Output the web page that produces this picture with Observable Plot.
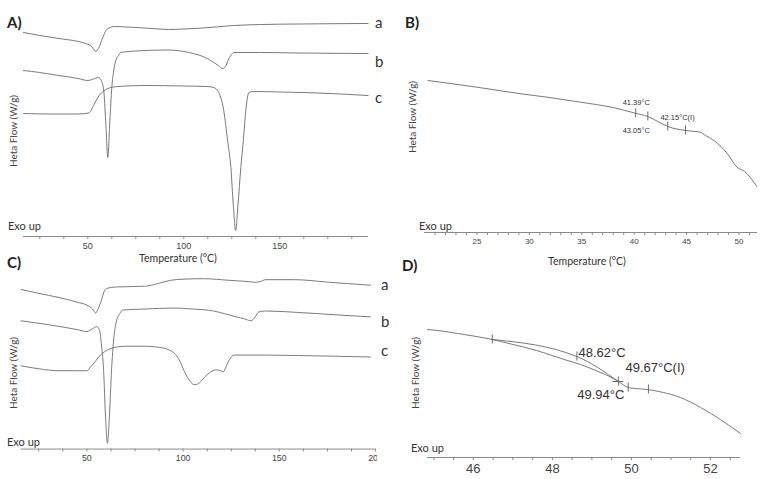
<!DOCTYPE html>
<html><head><meta charset="utf-8">
<script src="https://cdn.jsdelivr.net/npm/d3@7"></script>
<script src="https://cdn.jsdelivr.net/npm/@observablehq/plot@0.6"></script>
<style>
body{margin:0;background:#fff;}
#wrap{position:relative;width:763px;height:479px;overflow:hidden;background:#fff;font-family:Lato,"Open Sans",sans-serif;color:#333;}
.pn{position:absolute;}
.t{position:absolute;white-space:nowrap;line-height:1;}
</style></head><body><div id="wrap"></div>
<script>
// ---------- Panel A: DSC thermograms (Temperature °C, heat flow W/g, offset) ----------
const A_a = [[16.5,-0.32],[25,-0.35],[35,-0.38],[45,-0.41],[48,-0.425],[52,-0.46],[54.2,-0.51],[56,-0.46],[58,-0.36],[59.5,-0.30],[61,-0.275],[64,-0.26],[70,-0.265],[80,-0.275],[92,-0.29],[100,-0.285],[110,-0.275],[126,-0.25],[140,-0.24],[160,-0.235],[196,-0.23]];
const A_b = [[16.5,-0.70],[25,-0.72],[35,-0.75],[45,-0.78],[50,-0.80],[53,-0.785],[55.5,-0.77],[57,-0.80],[58.3,-0.90],[59.3,-1.20],[60.4,-1.57],[61.5,-1.20],[62.5,-0.87],[63.5,-0.70],[64.6,-0.60],[66,-0.55],[67.2,-0.52],[75,-0.505],[91.7,-0.495],[100,-0.51],[105,-0.53],[110,-0.56],[114,-0.60],[118,-0.65],[120.3,-0.68],[122,-0.65],[123,-0.60],[124.5,-0.55],[126,-0.52],[140,-0.52],[160,-0.525],[196,-0.53]];
const A_c = [[16.5,-1.13],[30,-1.135],[45,-1.135],[50.5,-1.125],[53,-1.05],[55.2,-0.97],[58,-0.91],[60.4,-0.88],[65.6,-0.86],[80,-0.85],[100,-0.855],[112,-0.86],[115.6,-0.87],[118.2,-0.92],[120.8,-1.10],[122.8,-1.40],[124.5,-1.67],[125.8,-2.05],[127,-2.30],[128.2,-2.05],[129.7,-1.67],[131,-1.40],[132.3,-1.10],[133.9,-0.92],[136.5,-0.91],[150,-0.915],[170,-0.925],[196,-0.95]];
const A_ticks = [25,37.5,50,62.5,75,87.5,100,112.5,125,137.5,150,162.5,175,187.5];
const A_labels = [50,100,150];

// ---------- Panel B ----------
const B_curve = [[20.33,-0.80],[25.4,-0.873],[29.2,-0.933],[31.7,-0.967],[34.9,-1.017],[38.1,-1.073],[40.1,-1.127],[41.3,-1.16],[42.2,-1.207],[43.2,-1.26],[44.9,-1.30],[46.3,-1.317],[46.8,-1.35],[47.6,-1.40],[48.9,-1.533],[49.8,-1.667],[50.5,-1.707],[51.7,-1.86]];
const B_marks = [[40.14,-1.127],[41.3,-1.16],[43.2,-1.26],[44.9,-1.30]];
const B_notes = [["41.39°C",38.9,-1.02],["42.15°C(I)",42.5,-1.17],["43.05°C",38.9,-1.30]];
const B_ticks = [21,22,23,24,25,26,27,28,29,30,31,32,33,34,35,36,37,38,39,40,41,42,43,44,45,46,47,48,49,50,51];
const B_labels = [25,30,35,40,45,50];

// ---------- Panel C ----------
const C_a = [[15.8,-0.50],[25,-0.54],[35,-0.58],[45,-0.63],[50,-0.66],[53,-0.70],[54.6,-0.74],[56,-0.69],[57.7,-0.60],[59,-0.52],[60.2,-0.49],[65,-0.475],[80,-0.467],[87,-0.44],[93.4,-0.407],[100,-0.395],[110.7,-0.39],[124,-0.407],[134,-0.42],[137.8,-0.427],[140,-0.42],[142.9,-0.40],[158,-0.40],[175,-0.425],[197.4,-0.457]];
const C_b = [[15.8,-0.82],[30,-0.86],[45,-0.91],[50,-0.93],[53,-0.90],[55.1,-0.88],[56.5,-0.91],[57.5,-1.05],[58.7,-1.33],[59.7,-1.80],[60.7,-2.07],[61.7,-1.80],[62.8,-1.33],[64,-1.00],[65.3,-0.83],[67,-0.75],[68.9,-0.71],[80,-0.70],[95.4,-0.69],[105,-0.70],[115.8,-0.72],[122,-0.75],[127.6,-0.78],[132,-0.80],[135.2,-0.82],[137.5,-0.78],[139.3,-0.73],[142.9,-0.72],[160,-0.735],[180,-0.76],[197.4,-0.78]];
const C_c = [[15.8,-1.28],[25,-1.31],[35,-1.33],[45,-1.33],[50,-1.33],[52,-1.29],[54.6,-1.23],[57,-1.17],[59.7,-1.13],[63,-1.10],[69.9,-1.08],[80,-1.08],[90.3,-1.10],[93,-1.12],[95.4,-1.15],[98,-1.22],[100.5,-1.33],[103,-1.42],[105.6,-1.47],[107,-1.47],[108.7,-1.45],[111,-1.40],[113.8,-1.35],[117.3,-1.32],[119.5,-1.33],[120.9,-1.34],[122.5,-1.28],[124,-1.22],[126.5,-1.17],[140,-1.17],[160,-1.175],[197.4,-1.19]];
const C_ticks = [25,37.5,50,62.5,75,87.5,100,112.5,125,137.5,150,162.5,175,187.5,200];
const C_labels = [50,100,150,200];

// ---------- Panel D ----------
const D_curve = [[44.84,-0.89],[45.2,-0.905],[45.6,-0.93],[46.0,-0.955],[46.48,-0.99],[46.9,-1.03],[47.27,-1.065],[47.6,-1.10],[47.95,-1.145],[48.3,-1.19],[48.71,-1.24],[49.1,-1.30],[49.54,-1.38],[49.67,-1.41],[49.92,-1.47],[50.1,-1.48],[50.4,-1.49],[50.81,-1.52],[51.24,-1.57],[51.75,-1.67],[52.25,-1.79],[52.76,-1.93]];
const D_tangent = [[46.48,-0.99],[48.62,-1.16],[49.67,-1.41]];
const D_marks = [[46.48,-0.99],[48.62,-1.16],[49.67,-1.41],[49.92,-1.47],[50.43,-1.49]];
const D_cross = [[49.67,-1.41]];
const D_notes = [["48.62°C",48.66,-1.12],["49.67°C(I)",49.85,-1.27],["49.94°C",48.63,-1.54]];
const D_ticks = [45,45.5,46,46.5,47,47.5,48,48.5,49,49.5,50,50.5,51,51.5,52,52.5];
const D_labels = [46,48,50,52];

const series = ["a","b","c"];

const wrap = document.getElementById("wrap");
const LINE = "#6a6a6a";
const AX = "#8a8a8a";

function panel(o){
  const marks = [
    Plot.ruleY([o.yd[0]], {stroke: AX, strokeWidth: 1}),
    Plot.axisX({ticks: o.ticks, tickSize: 3, tickPadding: 3, stroke: AX, label: null,
      tickFormat: d => o.labels.includes(d) ? String(d) : ""}),
    ...o.lines.map(L => Plot.line(L, {x: d => d[0], y: d => d[1], stroke: LINE, strokeWidth: 0.9, curve: "monotone-x"}))
  ];
  if (o.extra) marks.push(...o.extra);
  const svg = Plot.plot({
    width: o.w, height: o.h,
    marginLeft: o.ml, marginRight: o.mr, marginTop: 0, marginBottom: o.mb,
    x: {domain: o.xd},
    y: {domain: o.yd, axis: null},
    style: {background: "transparent", fontFamily: "'Liberation Sans', Arial, sans-serif", fontSize: o.fs + "px", color: "#444"},
    marks
  });
  const div = document.createElement("div");
  div.className = "pn";
  div.style.left = o.left + "px"; div.style.top = o.top + "px";
  div.style.width = (o.clipW || o.w) + "px"; div.style.height = o.h + "px";
  div.style.overflow = "hidden";
  div.appendChild(svg);
  wrap.appendChild(div);
}

function ticksAt(arr){
  return Plot.ruleX(arr, {x: d => d[0], y1: d => d[1] - 0.045, y2: d => d[1] + 0.045, stroke: LINE, strokeWidth: 1});
}
function notes(arr, fs){
  return Plot.text(arr, {x: d => d[1], y: d => d[2], text: d => d[0], textAnchor: "start", fontSize: fs, fill: "#333",
    fontFamily: "'Liberation Sans', Arial, sans-serif"});
}

panel({left:0, top:0, w:380, h:265, ml:23, mr:12, mb:29, xd:[16.5,196.2], yd:[-2.36,0], fs:9,
  ticks:A_ticks, labels:A_labels, lines:[A_a,A_b,A_c]});
panel({left:380, top:0, w:383, h:265, ml:44, mr:6, mb:33, xd:[20,51.76], yd:[-2.32,0], fs:8,
  ticks:B_ticks, labels:B_labels, lines:[B_curve],
  extra:[ticksAt(B_marks), notes(B_notes, 7.5)]});
panel({left:0, top:240, w:385, clipW:377, h:239, ml:21, mr:2, mb:26, xd:[15.8,200], yd:[-2.13,0], fs:9,
  ticks:C_ticks, labels:C_labels, lines:[C_a,C_b,C_c]});
panel({left:380, top:240, w:383, h:239, ml:47, mr:23, mb:22, xd:[44.84,52.76], yd:[-2.17,0], fs:13,
  ticks:D_ticks, labels:D_labels, lines:[D_curve, D_tangent],
  extra:[ticksAt(D_marks),
    Plot.ruleY(D_cross, {y: d => d[1], x1: d => d[0] - 0.14, x2: d => d[0] + 0.14, stroke: LINE}),
    notes(D_notes, 13)]});

// ---------- HTML text ----------
function txt(s, x, y, css, center){
  const e = document.createElement("div");
  e.className = "t";
  e.textContent = s;
  e.style.left = x + "px"; e.style.top = y + "px";
  e.style.transform = center ? "translate(-50%,-50%)" : "translate(0,-50%)";
  Object.assign(e.style, css || {});
  wrap.appendChild(e);
  return e;
}
function ytitle(x, y){
  const e = txt("Heta Flow (W/g)", x, y, {fontSize: "10px", color: "#444"}, true);
  e.style.transform = "translate(-50%,-50%) rotate(-90deg)";
}
const bold = {fontSize: "15px", fontWeight: "700", color: "#222"};
txt("A)", 7, 22, bold); txt("B)", 405, 22, bold);
txt("C)", 7, 262, bold); txt("D)", 402, 265, bold);
ytitle(13, 131); ytitle(412, 117); ytitle(13, 373); ytitle(415, 373);
const exo = {fontSize: "11px", color: "#333"};
txt("Exo up", 8, 225, exo); txt("Exo up", 419, 225, exo);
txt("Exo up", 7, 441, exo); txt("Exo up", 411, 447, exo);
const tt = {fontSize: "10.5px", color: "#333"};
txt("Temperature (°C)", 178, 258, tt, true); txt("Temperature (°C)", 587, 261, tt, true);
const lab = {fontSize: "15px", color: "#333"};
const A_ly = [22, 61, 97], C_ly = [284, 321, 350];
series.forEach((s, i) => { txt(s, 375, A_ly[i], lab); txt(s, 381, C_ly[i], lab); });
</script></body></html>
